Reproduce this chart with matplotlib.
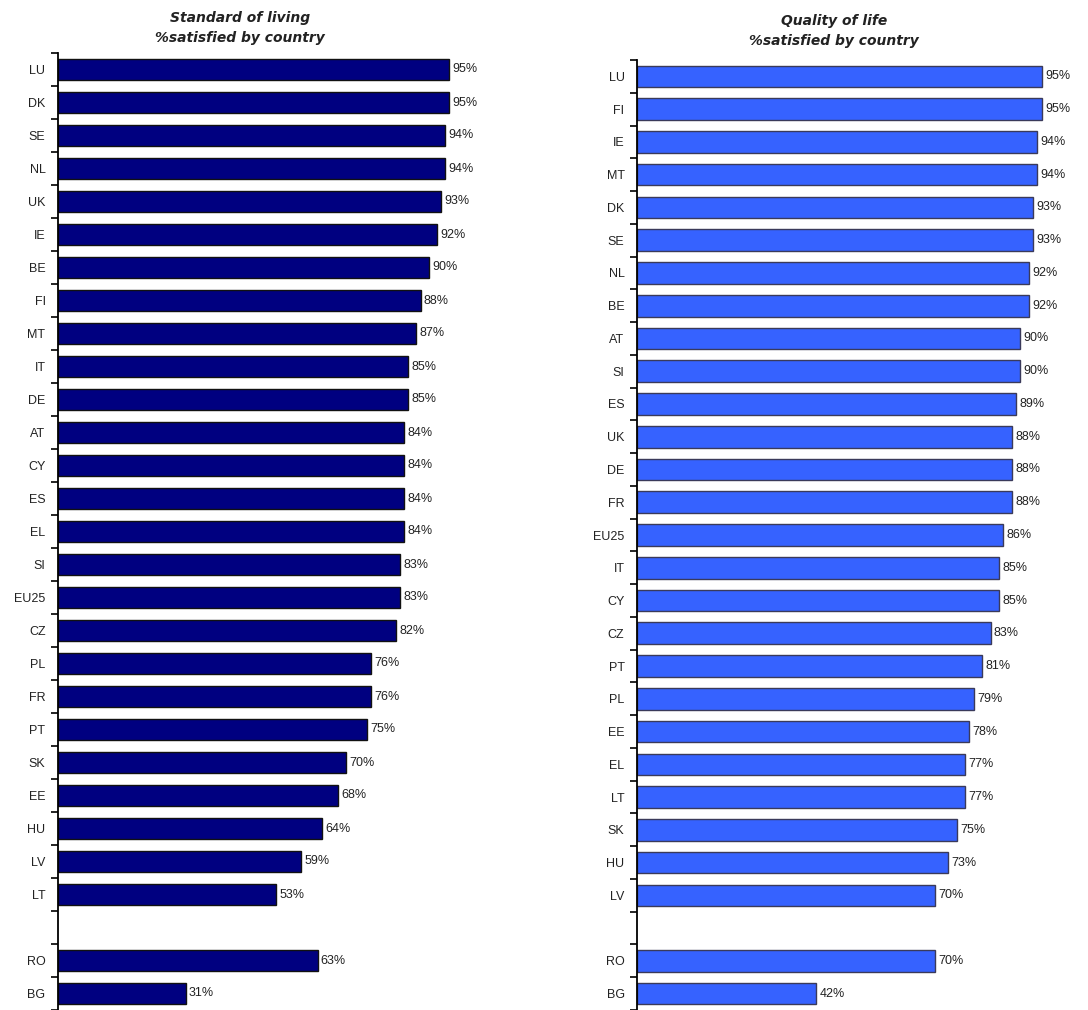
import matplotlib
matplotlib.use("Agg")
import matplotlib.pyplot as plt

plt.rcParams['font.family'] = ['Liberation Sans', 'DejaVu Sans']

# Standard of living, % satisfied by country
living_countries = ["LU", "DK", "SE", "NL", "UK", "IE", "BE", "FI", "MT", "IT",
                    "DE", "AT", "CY", "ES", "EL", "SI", "EU25", "CZ", "PL", "FR",
                    "PT", "SK", "EE", "HU", "LV", "LT", "RO", "BG"]
living_values = [95, 95, 94, 94, 93, 92, 90, 88, 87, 85,
                 85, 84, 84, 84, 84, 83, 83, 82, 76, 76,
                 75, 70, 68, 64, 59, 53, 63, 31]

# Quality of life, % satisfied by country
quality_countries = ["LU", "FI", "IE", "MT", "DK", "SE", "NL", "BE", "AT", "SI",
                     "ES", "UK", "DE", "FR", "EU25", "IT", "CY", "CZ", "PT", "PL",
                     "EE", "EL", "LT", "SK", "HU", "LV", "RO", "BG"]
quality_values = [95, 95, 94, 94, 93, 93, 92, 92, 90, 90,
                  89, 88, 88, 88, 86, 85, 85, 83, 81, 79,
                  78, 77, 77, 75, 73, 70, 70, 42]

W, H = 1088, 1010
fig = plt.figure(figsize=(W / 100, H / 100), dpi=100)


def positions(n_main, n_extra):
    # rows for member states, one empty row, then candidate countries
    return list(range(n_main)) + [n_main + 1 + i for i in range(n_extra)]


def panel(rect, countries, values, face, edge):
    ax = fig.add_axes(rect)
    ypos = positions(len(countries) - 2, 2)
    ax.barh(ypos, values, height=0.66, color=face, edgecolor=edge, linewidth=1.0)
    for y, v in zip(ypos, values):
        ax.text(v + 0.8, y, f"{v}%", va="center", ha="left", fontsize=9, color="#222222")
    ax.set_xlim(0, 100)
    ax.set_ylim(28.5, -0.5)
    ax.set_yticks(ypos)
    ax.set_yticklabels(countries, fontsize=9, color="#222222")
    ax.set_yticks([i - 0.5 for i in range(30)], minor=True)
    ax.tick_params(axis="y", which="major", length=0, pad=9)
    ax.tick_params(axis="y", which="minor", length=5, width=1.2, color="black")
    ax.set_xticks([])
    for side in ("top", "right", "bottom"):
        ax.spines[side].set_visible(False)
    ax.spines["left"].set_linewidth(1.3)
    ax.patch.set_alpha(0)
    return ax


# left panel: axis at x=58, 100% at x=470, rows span y=53..1010
panel([58 / W, 0.0, 412 / W, (1010 - 53) / H], living_countries, living_values,
      "#000080", "#111111")
# right panel: axis at x=637, 100% at x=1063, rows span y=60..1010
panel([637 / W, 0.0, 426 / W, (1010 - 60) / H], quality_countries, quality_values,
      "#3662FF", "#3a3a5a")

title_kw = dict(ha="center", va="center", fontsize=10, fontweight="bold",
                fontstyle="italic", color="#222222", family=["DejaVu Sans"])
fig.text(240 / W, 1 - 18 / H, "Standard of living", **title_kw)
fig.text(240 / W, 1 - 38 / H, "%satisfied by country", **title_kw)
fig.text(834 / W, 1 - 21 / H, "Quality of life", **title_kw)
fig.text(834 / W, 1 - 41 / H, "%satisfied by country", **title_kw)

fig.savefig("out.png", dpi=100, facecolor="white")
